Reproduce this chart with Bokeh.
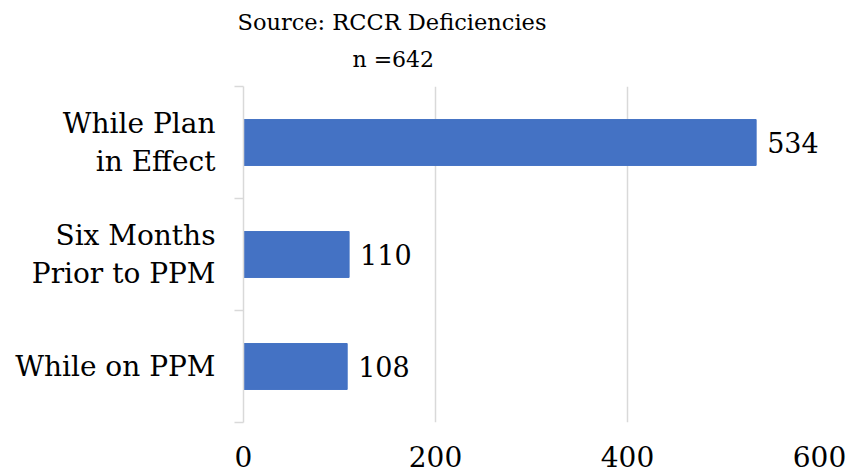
from bokeh.plotting import figure
from bokeh.models import (ColumnDataSource, LabelSet, FixedTicker, Range1d,
                          LinearAxis, Title)
from bokeh.core.properties import value
from bokeh.embed import file_html
from bokeh.resources import INLINE

# Data
categories = ["While Plan\nin Effect", "Six Months\nPrior to PPM", "While on PPM"]
values = [534, 110, 108]
x_ticks = [0, 200, 400, 600]
title_lines = ["Source: RCCR Deficiencies", "n =642"]

FONT = "DejaVu Serif"
BAR = "#4472C4"
GRID = "#d9d9d9"

n = len(categories)
ypos = [n - i - 0.5 for i in range(n)]

src = ColumnDataSource(dict(
    y=ypos, v=values, vlab=[str(v) for v in values],
))

p = figure(width=847, height=475, output_backend="svg", toolbar_location=None,
           x_range=Range1d(0, 600), y_range=Range1d(0, n),
           y_axis_location=None,
           min_border_left=243, min_border_right=28, min_border_top=86,
           min_border_bottom=53)
p.outline_line_color = None

p.hbar(y="y", right="v", left=0, height=0.41, color=BAR, source=src)

# x axis
p.xaxis.ticker = FixedTicker(ticks=x_ticks)
p.xaxis.axis_line_color = None
p.xaxis.major_tick_line_color = None
p.xaxis.minor_tick_line_color = None
p.xaxis.major_label_text_font = FONT
p.xaxis.major_label_text_font_size = "28px"
p.xaxis.major_label_text_color = "black"
p.xaxis.major_label_standoff = 17
p.xgrid.ticker = FixedTicker(ticks=x_ticks)
p.xgrid.grid_line_color = GRID
p.xgrid.grid_line_width = 1.5
p.ygrid.grid_line_color = None

# inner y axis: boundary ticks only
num_axis = LinearAxis(ticker=FixedTicker(ticks=list(range(n + 1))))
num_axis.major_label_overrides = {i: "" for i in range(n + 1)}
num_axis.major_label_standoff = 0
num_axis.axis_line_color = GRID
num_axis.axis_line_width = 1.5
num_axis.major_tick_line_color = GRID
num_axis.major_tick_line_width = 1.5
num_axis.major_tick_out = 9
num_axis.major_tick_in = 0
num_axis.minor_tick_line_color = None
p.add_layout(num_axis, "left")

# outer y axis: category labels at band centres
cat_axis = LinearAxis(ticker=FixedTicker(ticks=ypos))
cat_axis.major_label_overrides = {yv: c for yv, c in zip(ypos, categories)}
cat_axis.axis_line_color = None
cat_axis.major_tick_line_color = None
cat_axis.minor_tick_line_color = None
cat_axis.major_tick_out = 0
cat_axis.major_tick_in = 0
cat_axis.major_label_standoff = 19
cat_axis.major_label_text_font = FONT
cat_axis.major_label_text_font_size = "28px"
cat_axis.major_label_text_color = "black"
cat_axis.major_label_text_line_height = 1.15
p.add_layout(cat_axis, "left")

# value labels
p.add_layout(LabelSet(x="v", y="y", text="vlab", source=src, x_offset=11,
                      text_align="left", text_baseline="middle",
                      text_font=value(FONT), text_font_size="27px",
                      text_color="black"))

# title lines (inner line first)
t2 = Title(text=title_lines[1], align="left", offset=109, standoff=30,
           text_font=FONT, text_font_size="22px", text_font_style="normal",
           text_color="black")
t1 = Title(text=title_lines[0], align="left", offset=-6, standoff=-10,
           text_font=FONT, text_font_size="22.5px", text_font_style="normal",
           text_color="black")
p.add_layout(t2, "above")
p.add_layout(t1, "above")

open("out.html", "w").write(file_html(p, INLINE))
